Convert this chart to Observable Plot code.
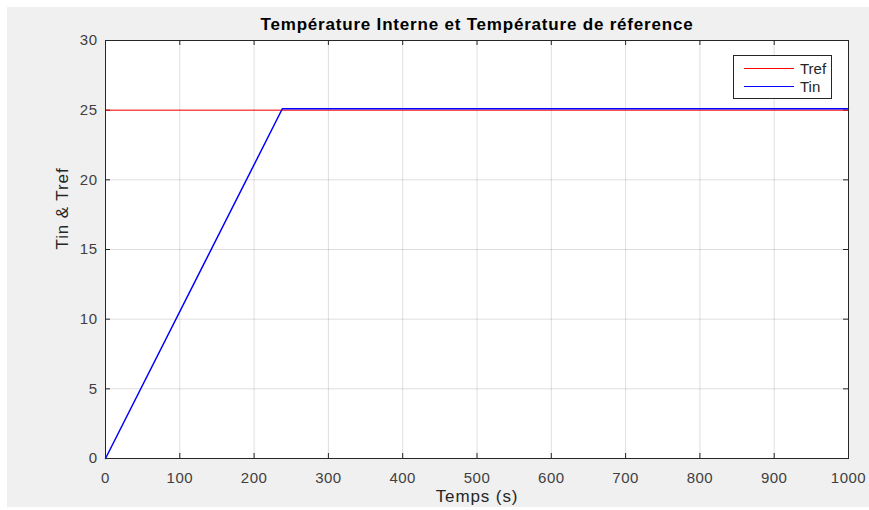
<!DOCTYPE html>
<html>
<head>
<meta charset="utf-8">
<script src="https://cdn.jsdelivr.net/npm/d3@7"></script>
<script src="https://cdn.jsdelivr.net/npm/@observablehq/plot@0.6"></script>
<style>
  html, body { margin: 0; padding: 0; background: #ffffff; }
  #fig {
    position: absolute; left: 7px; top: 7px; width: 862px; height: 500px;
    background: #f0f0f0; overflow: hidden;
    font-family: "Liberation Sans", Arial, Helvetica, sans-serif;
  }
  #fig svg { position: absolute; left: 0; top: 0; background: transparent; }
  #fig svg g[aria-label="x-axis tick label"] text,
  #fig svg g[aria-label="y-axis tick label"] text { letter-spacing: 0.5px; }
  #legend {
    position: absolute; left: 726px; top: 48px; width: 97px; height: 42px;
    background: #ffffff; border: 1px solid #262626;
    font-size: 15px; color: #262626;
  }
  .entry { position: absolute; left: 10px; height: 18px; display: flex; align-items: center; }
  .entry .swatch { width: 50px; height: 0; margin-right: 6px; }
</style>
</head>
<body>
<div id="fig"></div>
<script>
// Time axis (s) and temperatures (°C)
const trefTime = [0, 1000];
const trefValues = [25, 25];
const tinTime = [0, 238, 1000];
const tinValues = [0, 25.1, 25.1];

const xTicks = [0, 100, 200, 300, 400, 500, 600, 700, 800, 900, 1000];
const yTicks = [0, 5, 10, 15, 20, 25, 30];

const seriesNames = ["Tref", "Tin"];
const seriesColors = ["#ff0000", "#0000ff"];

const tref = trefTime.map((t, i) => ({t, v: trefValues[i]}));
const tin = tinTime.map((t, i) => ({t, v: tinValues[i]}));

const W = 862, H = 500;
const mL = 98, mR = 21, mT = 33, mB = 49;
const plotH = H - mT - mB, plotW = W - mL - mR;
const tickLen = 5;
const axisColor = "#262626";
const font = `"Liberation Sans", Arial, Helvetica, sans-serif`;

const chart = Plot.plot({
  width: W,
  height: H,
  marginLeft: mL,
  marginRight: mR,
  marginTop: mT,
  marginBottom: mB,
  style: {fontFamily: font, fontSize: "15px", color: "#404040", background: "transparent", overflow: "visible"},
  x: {domain: [0, 1000], ticks: xTicks},
  y: {domain: [0, 30], ticks: yTicks},
  marks: [
    Plot.frame({fill: "#ffffff", stroke: "none"}),
    Plot.gridX(xTicks, {stroke: "#000000", strokeOpacity: 0.13}),
    Plot.gridY(yTicks, {stroke: "#000000", strokeOpacity: 0.13}),
    // inward tick marks on all four sides
    Plot.tickX(xTicks, {x: d => d, insetTop: plotH - tickLen, stroke: axisColor}),
    Plot.tickX(xTicks, {x: d => d, insetBottom: plotH - tickLen, stroke: axisColor}),
    Plot.tickY(yTicks, {y: d => d, insetRight: plotW - tickLen, stroke: axisColor}),
    Plot.tickY(yTicks, {y: d => d, insetLeft: plotW - tickLen, stroke: axisColor}),
    Plot.line(tref, {x: "t", y: "v", stroke: seriesColors[0], strokeWidth: 1}),
    Plot.line(tin, {x: "t", y: "v", stroke: seriesColors[1], strokeWidth: 1.5}),
    Plot.frame({stroke: axisColor, strokeWidth: 1}),
    Plot.axisX(xTicks, {tickSize: 0, tickPadding: 14, tickFormat: d => String(d), label: null, fill: "#404040", fontSize: 15}),
    Plot.axisY(yTicks, {tickSize: 0, tickPadding: 8, tickFormat: d => String(d), label: null, fill: "#404040", fontSize: 15}),
    Plot.text(["Température Interne et Température de réference"], {
      frameAnchor: "top", dy: -15.5, lineAnchor: "middle", fontWeight: "bold", fontSize: 17, fill: "#000000"
    }),
    Plot.text(["Temps (s)"], {frameAnchor: "bottom", dy: 38, lineAnchor: "middle", fontSize: 17, fill: "#262626"}),
    Plot.text(["Tin & Tref"], {frameAnchor: "left", dx: -43, rotate: -90, fontSize: 17, fill: "#262626"})
  ]
});

const fig = document.getElementById("fig");
fig.appendChild(chart);

// spread the title and axis-label glyphs slightly
chart.querySelectorAll('g[aria-label="text"] text').forEach(t => {
  t.style.letterSpacing = t.textContent.startsWith("Temp\u00e9rature") ? "0.8px" : "0.9px";
});

// Legend box in the upper right of the axes
const legend = document.createElement("div");
legend.id = "legend";
seriesNames.forEach((name, i) => {
  const row = document.createElement("div");
  row.className = "entry";
  row.style.top = (3 + i * 18) + "px";
  const sw = document.createElement("div");
  sw.className = "swatch";
  sw.style.borderTop = `1px solid ${seriesColors[i]}`;
  const label = document.createElement("span");
  label.textContent = name;
  row.appendChild(sw);
  row.appendChild(label);
  legend.appendChild(row);
});
fig.appendChild(legend);
</script>
</body>
</html>
